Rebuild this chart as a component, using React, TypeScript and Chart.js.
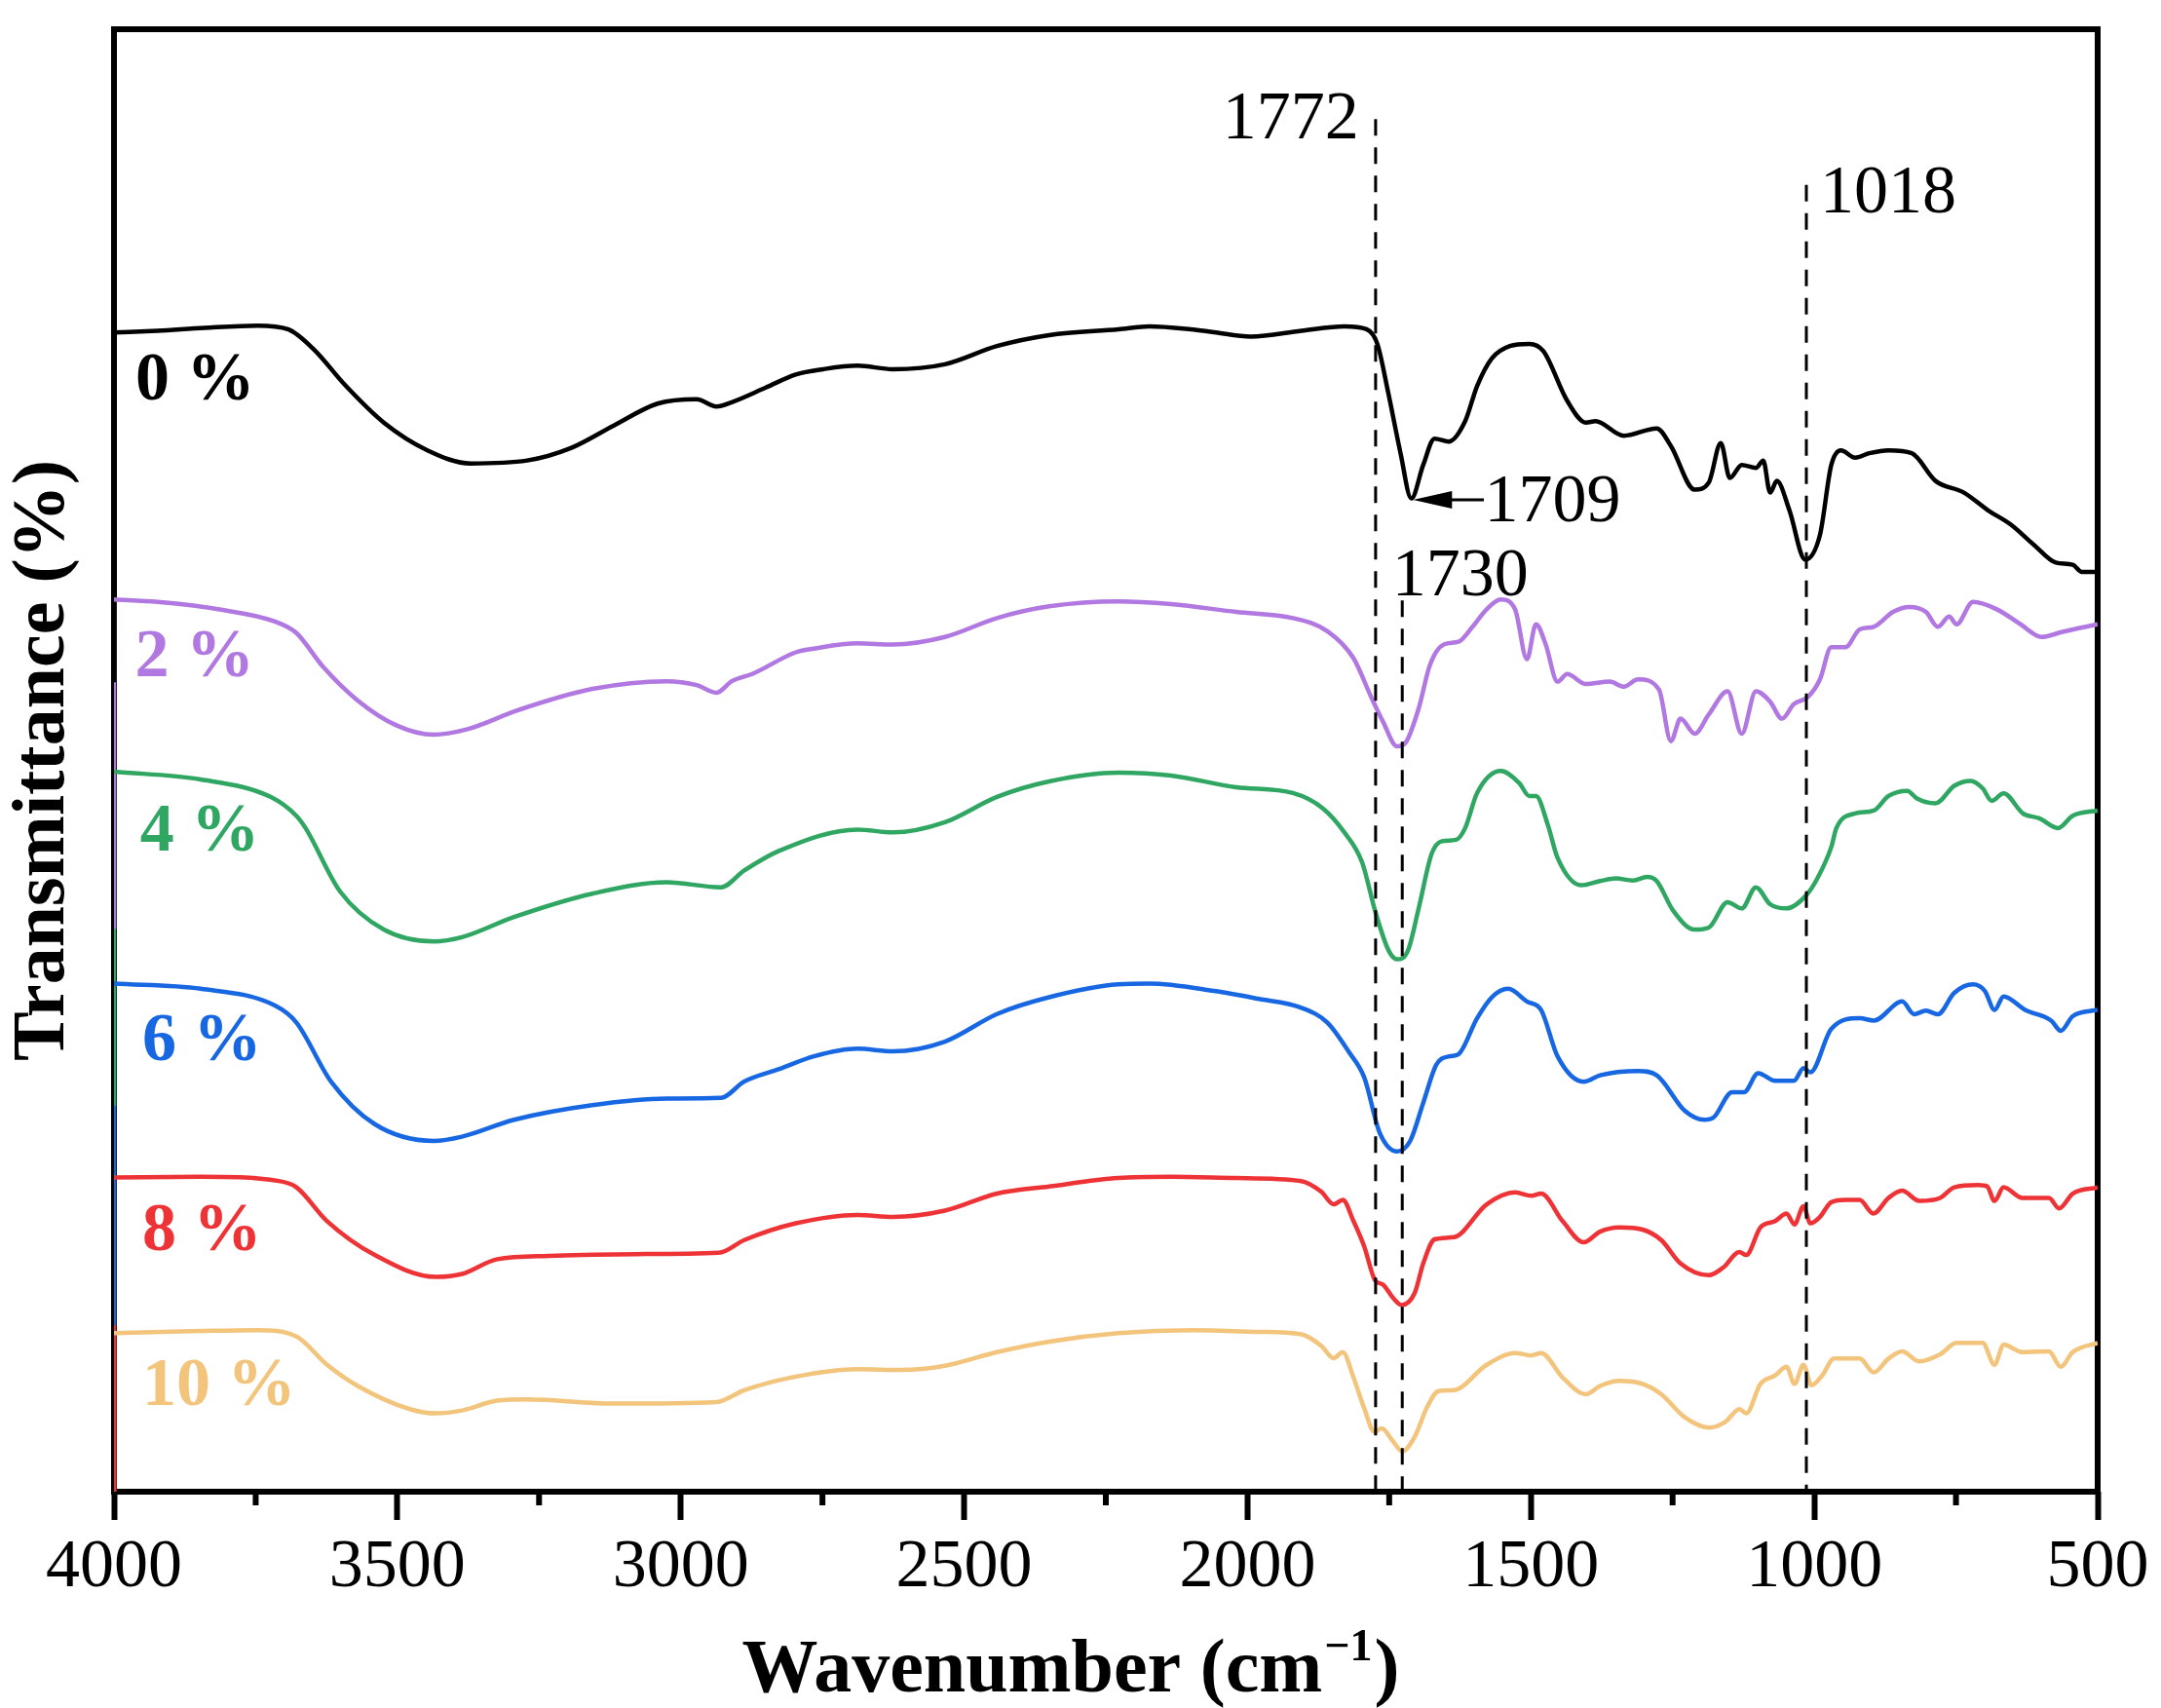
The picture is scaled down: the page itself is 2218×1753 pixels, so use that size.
import React, { useEffect, useRef } from 'react';
import { Chart, registerables } from 'chart.js';

Chart.register(...registerables);

const FONT = '"Times New Roman", "Liberation Serif", serif';

// ---------- data (wavenumber in cm-1, transmittance in offset units) ----------
const WN_0 = [
  4000, 3923, 3840, 3747, 3693, 3647, 3593, 3524, 3447, 3371,
  3271, 3194, 3118, 3041, 2972, 2937, 2910, 2850, 2797, 2749,
  2688, 2626, 2534, 2442, 2350, 2228, 2173, 2100, 2059, 1994,
  1905, 1829, 1790, 1771, 1752, 1730, 1711, 1690, 1670, 1645,
  1616, 1595, 1569, 1537, 1503, 1478, 1436, 1403, 1386, 1336,
  1278, 1253, 1211, 1186, 1165, 1149, 1128, 1103, 1090, 1078,
  1066, 1044, 1016, 990, 970, 953, 928, 903, 869, 828,
  786, 736, 694, 653, 612, 574, 544, 528, 500,
];
const T_0 = [
  79.27, 79.4, 79.6, 79.75, 79.5, 78.1, 75.7, 73.1, 71.2, 70.3,
  70.5, 71.35, 72.9, 74.4, 74.7, 74.2, 74.5, 75.5, 76.4, 76.76,
  77.0, 76.76, 77.1, 78.35, 79.1, 79.5, 79.7, 79.5, 79.3, 79.0,
  79.4, 79.7, 79.5, 78.5, 75.2, 71.0, 67.9, 70.2, 72.0, 71.8,
  73.2, 75.6, 77.5, 78.35, 78.5, 78.0, 74.6, 73.1, 73.2, 72.2,
  72.7, 71.5, 68.5, 69.0, 71.7, 69.3, 70.2, 70.0, 70.5, 68.3,
  69.1, 67.1, 63.7, 65.4, 70.2, 71.2, 70.7, 71.0, 71.2, 71.0,
  69.1, 68.3, 67.1, 66.1, 64.7, 63.5, 63.35, 62.86, 62.86,
];

const WN_2 = [
  4000, 3923, 3808, 3716, 3678, 3632, 3570, 3501, 3436, 3378,
  3286, 3156, 3025, 2972, 2937, 2910, 2872, 2797, 2765, 2688,
  2626, 2534, 2442, 2350, 2228, 2135, 2020, 1920, 1859, 1813,
  1782, 1761, 1736, 1721, 1698, 1678, 1653, 1628, 1603, 1578,
  1553, 1528, 1507, 1491, 1474, 1453, 1436, 1403, 1361, 1336,
  1311, 1274, 1253, 1236, 1211, 1186, 1153, 1128, 1103, 1078,
  1057, 1036, 1011, 990, 970, 945, 920, 895, 861, 832,
  803, 782, 762, 749, 720, 678, 636, 599, 562, 500,
];
const T_2 = [
  60.97, 60.8, 60.25, 59.46, 58.67, 56.4, 54.05, 52.33, 51.7, 52.06,
  53.4, 54.84, 55.37, 55.1, 54.58, 55.37, 55.9, 57.35, 57.6, 57.96,
  57.88, 58.4, 59.7, 60.5, 60.84, 60.65, 60.12, 59.7, 58.8, 56.95,
  54.3, 52.6, 50.9, 51.16, 53.5, 56.5, 57.9, 58.07, 59.1, 60.3,
  60.97, 60.3, 56.88, 59.27, 57.9, 55.34, 55.86, 55.18, 55.34, 55.0,
  55.5, 54.8, 51.26, 52.8, 51.77, 53.1, 54.67, 51.77, 54.67, 53.97,
  52.8, 53.8, 54.3, 55.5, 57.7, 57.7, 58.92, 59.1, 60.12, 60.46,
  60.12, 59.1, 59.8, 59.27, 60.8, 60.3, 59.27, 58.4, 58.75, 59.27,
];

const WN_4 = [
  4000, 3847, 3724, 3678, 3662, 3601, 3524, 3436, 3386, 3294,
  3156, 3025, 2929, 2888, 2826, 2688, 2626, 2534, 2442, 2350,
  2228, 2135, 2020, 1920, 1867, 1829, 1798, 1774, 1751, 1736,
  1717, 1698, 1675, 1657, 1632, 1616, 1595, 1553, 1520, 1503,
  1491, 1470, 1453, 1411, 1378, 1350, 1320, 1295, 1278, 1249,
  1211, 1186, 1153, 1128, 1103, 1078, 1049, 1015, 995, 970,
  961, 928, 895, 869, 836, 819, 786, 753, 724, 703,
  687, 666, 632, 603, 570, 544, 500,
];
const T_4 = [
  49.17, 48.63, 47.44, 46.13, 45.3, 40.95, 38.34, 37.53, 37.82, 39.2,
  40.8, 41.58, 41.24, 42.39, 43.75, 45.2, 45.0, 45.7, 47.44, 48.5,
  49.1, 48.9, 48.1, 47.7, 46.65, 45.0, 42.97, 39.5, 36.9, 36.3,
  36.9, 39.8, 43.55, 44.4, 44.5, 45.3, 47.7, 49.21, 48.36, 47.5,
  47.5, 45.5, 43.26, 41.38, 41.67, 41.85, 41.7, 41.95, 41.67, 39.64,
  38.34, 38.48, 40.22, 39.79, 41.24, 40.08, 39.79, 40.66, 41.82, 44.0,
  45.3, 46.3, 46.5, 47.5, 47.85, 47.33, 47.0, 48.2, 48.54, 48.03,
  47.17, 47.68, 46.31, 45.97, 45.3, 46.15, 46.5,
];

const WN_6 = [
  4000, 3847, 3716, 3678, 3617, 3540, 3436, 3386, 3294, 3156,
  3025, 2929, 2888, 2826, 2765, 2688, 2626, 2534, 2442, 2350,
  2228, 2173, 2059, 1982, 1905, 1859, 1821, 1794, 1767, 1736,
  1713, 1690, 1667, 1644, 1628, 1595, 1569, 1540, 1507, 1482,
  1453, 1407, 1378, 1311, 1278, 1228, 1194, 1178, 1145, 1124,
  1099, 1069, 1036, 1019, 1007, 970, 920, 895, 845, 824,
  803, 782, 753, 720, 699, 682, 666, 628, 582, 565,
  544, 500,
];
const T_6 = [
  34.63, 34.28, 33.13, 31.96, 27.92, 25.0, 23.85, 24.14, 25.3, 26.3,
  26.75, 26.8, 27.92, 28.78, 29.65, 30.17, 29.99, 30.66, 32.55, 33.7,
  34.58, 34.63, 34.13, 33.6, 32.98, 31.96, 29.94, 28.2, 24.43, 23.13,
  23.85, 26.46, 29.07, 29.65, 29.79, 32.26, 33.7, 34.28, 33.41, 32.83,
  29.65, 27.91, 28.35, 28.64, 28.35, 25.9, 25.3, 25.45, 27.19, 27.19,
  28.49, 27.97, 27.97, 28.84, 28.55, 31.53, 32.26, 32.1, 33.41, 32.54,
  32.78, 32.54, 34.0, 34.58, 34.13, 32.83, 33.76, 32.83, 32.1, 31.4,
  32.4, 32.83,
];

const WN_8 = [
  4000, 3847, 3709, 3678, 3624, 3540, 3432, 3386, 3324, 3233,
  3079, 2933, 2888, 2797, 2688, 2626, 2534, 2442, 2350, 2228,
  2135, 2020, 1905, 1870, 1848, 1832, 1813, 1794, 1775, 1761,
  1744, 1728, 1705, 1690, 1670, 1636, 1578, 1528, 1499, 1482,
  1444, 1407, 1378, 1344, 1303, 1270, 1236, 1186, 1161, 1132,
  1120, 1095, 1069, 1049, 1035, 1019, 1007, 990, 970, 945,
  920, 896, 869, 845, 815, 778, 753, 711, 695, 682,
  666, 633, 586, 568, 544, 500,
];
const T_8 = [
  21.34, 21.39, 21.1, 20.67, 18.35, 16.03, 14.53, 14.73, 15.74, 15.97,
  16.09, 16.18, 17.05, 18.2, 18.78, 18.64, 19.07, 20.24, 20.73, 21.31,
  21.39, 21.31, 21.1, 20.37, 19.5, 19.8, 18.35, 16.6, 14.3, 14.0,
  13.13, 12.6, 13.43, 15.45, 17.1, 17.25, 19.5, 20.32, 20.09, 20.24,
  18.35, 16.9, 17.63, 17.92, 17.77, 17.05, 15.45, 14.64, 15.16, 16.23,
  16.03, 17.92, 18.35, 18.87, 18.12, 19.37, 18.2, 18.64, 19.65, 19.8,
  19.8, 18.87, 19.94, 20.44, 19.74, 19.94, 20.67, 20.82, 20.73, 19.74,
  20.67, 19.94, 19.94, 19.22, 20.24, 20.67,
];

const WN_10 = [
  4000, 3847, 3747, 3678, 3624, 3570, 3478, 3432, 3386, 3324,
  3271, 3117, 2937, 2888, 2797, 2688, 2611, 2534, 2442, 2350,
  2228, 2097, 1982, 1905, 1870, 1848, 1832, 1813, 1794, 1776,
  1763, 1744, 1727, 1705, 1683, 1663, 1636, 1578, 1528, 1499,
  1482, 1444, 1403, 1378, 1344, 1303, 1270, 1228, 1186, 1157,
  1132, 1120, 1095, 1069, 1049, 1035, 1019, 1005, 986, 965,
  920, 895, 869, 845, 815, 778, 749, 703, 682, 666,
  633, 586, 565, 544, 500,
];
const T_10 = [
  10.67, 10.82, 10.88, 10.44, 8.5, 7.05, 5.46, 5.17, 5.37, 6.04,
  6.13, 5.84, 5.95, 6.76, 7.69, 8.2, 8.15, 8.44, 9.37, 10.09,
  10.67, 10.88, 10.76, 10.59, 9.81, 8.95, 9.37, 7.63, 5.5, 3.9,
  4.15, 3.29, 2.57, 3.57, 5.61, 6.7, 6.76, 8.5, 9.31, 9.14,
  9.31, 7.63, 6.48, 7.05, 7.4, 7.19, 6.48, 4.88, 4.2, 4.59,
  5.46, 5.17, 7.19, 7.77, 8.36, 7.19, 8.5, 7.1, 7.77, 8.93,
  8.93, 7.98, 8.93, 9.42, 8.73, 9.22, 10.0, 10.0, 8.5, 9.89,
  9.37, 9.42, 8.36, 9.37, 10.0,
];

const SERIES_WN = [WN_0, WN_2, WN_4, WN_6, WN_8, WN_10];
const SERIES_T = [T_0, T_2, T_4, T_6, T_8, T_10];
const SERIES_LABELS = ['0 %', '2 %', '4 %', '6 %', '8 %', '10 %'];
// value each trace drops to at the 4000 cm-1 edge
const EDGE_LOW = [55.3, 38.4, 26.25, 11.2, -0.2, -0.2];
// series label anchor (wavenumber, transmittance)
const LABEL_WN = [3962, 3963, 3954, 3950, 3950, 3950];
const LABEL_T = [74.68, 55.68, 43.75, 29.36, 16.38, 5.74];

// dashed marker lines
const MARKER_WN = [1774, 1727, 1014];
const MARKER_TOP = [93.9, 60.9, 89.4];

// peak annotations
const PEAK_TEXT = ['1772', '1018', '1709', '1730'];
const PEAK_WN = [2044, 990, 1582, 1745];
const PEAK_T = [92.6, 87.48, 66.35, 61.26];
const ARROW_FROM_WN = 1583;
const ARROW_TO_WN = 1708;
const ARROW_T = 67.8;

const MAJOR_TICKS = [4000, 3500, 3000, 2500, 2000, 1500, 1000, 500];
const MINOR_TICKS = [3750, 3250, 2750, 2250, 1750, 1250, 750];

const Y_MIN = -0.2;
const Y_MAX = 100.07;

// ---------- styles ----------
const SERIES_COLORS = ['#000000', '#B078E0', '#2FA662', '#1766E2', '#EE3337', '#F2C47C'];
const W = 2218;
const H = 1753;

const overlayPlugin = {
  id: 'overlay',
  beforeDatasetsDraw(chart: any) {
    const { ctx, chartArea } = chart;
    ctx.save();
    ctx.strokeStyle = '#000';
    ctx.lineWidth = 6;
    ctx.strokeRect(chartArea.left, chartArea.top, chartArea.right - chartArea.left, chartArea.bottom - chartArea.top);
    ctx.restore();
  },
  afterDraw(chart: any) {
    const { ctx, chartArea } = chart;
    const x = chart.scales.x;
    const y = chart.scales.y;
    ctx.save();
    // minor ticks
    ctx.strokeStyle = '#000';
    ctx.lineWidth = 6;
    MINOR_TICKS.forEach((v) => {
      const px = x.getPixelForValue(v);
      ctx.beginPath();
      ctx.moveTo(px, chartArea.bottom);
      ctx.lineTo(px, chartArea.bottom + 14);
      ctx.stroke();
    });
    // series labels
    ctx.textAlign = 'left';
    ctx.textBaseline = 'alphabetic';
    ctx.font = `bold 70px ${FONT}`;
    SERIES_LABELS.forEach((t, i) => {
      ctx.fillStyle = SERIES_COLORS[i];
      ctx.fillText(t, x.getPixelForValue(LABEL_WN[i]), y.getPixelForValue(LABEL_T[i]));
    });
    // peak labels
    ctx.fillStyle = '#000';
    ctx.font = `70px ${FONT}`;
    PEAK_TEXT.forEach((t, i) => {
      ctx.fillText(t, x.getPixelForValue(PEAK_WN[i]), y.getPixelForValue(PEAK_T[i]));
    });
    // arrow to 1709
    const ay = y.getPixelForValue(ARROW_T);
    const ax0 = x.getPixelForValue(ARROW_FROM_WN);
    const ax1 = x.getPixelForValue(ARROW_TO_WN);
    ctx.strokeStyle = '#000';
    ctx.lineWidth = 3;
    ctx.beginPath();
    ctx.moveTo(ax0, ay);
    ctx.lineTo(ax1 + 30, ay);
    ctx.stroke();
    ctx.beginPath();
    ctx.moveTo(ax1, ay);
    ctx.lineTo(ax1 + 40, ay - 9);
    ctx.lineTo(ax1 + 40, ay + 9);
    ctx.closePath();
    ctx.fillStyle = '#000';
    ctx.fill();
    // x axis title with superscript
    const main = 'Wavenumber (cm';
    const sup = '\u22121';
    const close = ')';
    ctx.font = `bold 78px ${FONT}`;
    const w1 = ctx.measureText(main).width;
    const w3 = ctx.measureText(close).width;
    ctx.font = `bold 46px ${FONT}`;
    const w2 = ctx.measureText(sup).width;
    const cx = (chartArea.left + chartArea.right) / 2 - 38;
    let sx = cx - (w1 + w2 + w3) / 2;
    const by = H - 17;
    ctx.fillStyle = '#000';
    ctx.font = `bold 78px ${FONT}`;
    ctx.fillText(main, sx, by);
    sx += w1 + 2;
    ctx.font = `bold 46px ${FONT}`;
    ctx.fillText(sup, sx, by - 32);
    sx += w2 + 2;
    ctx.font = `bold 78px ${FONT}`;
    ctx.fillText(close, sx, by);
    ctx.restore();
  },
};

export default function App() {
  const ref = useRef<HTMLCanvasElement | null>(null);

  useEffect(() => {
    const canvas = ref.current;
    if (!canvas) return;
    canvas.width = W;
    canvas.height = H;

    const datasets: any[] = [];
    MARKER_WN.forEach((wn, i) => {
      datasets.push({
        label: 'marker' + i,
        data: [
          { x: wn, y: MARKER_TOP[i] },
          { x: wn, y: Y_MIN },
        ],
        borderColor: '#000',
        borderWidth: 3,
        borderDash: [17, 12],
        pointRadius: 0,
        tension: 0,
        order: 0,
      });
    });
    SERIES_WN.forEach((wns, i) => {
      datasets.push({
        label: SERIES_LABELS[i],
        data: wns.map((wn, j) => ({ x: wn, y: SERIES_T[i][j] })),
        borderColor: SERIES_COLORS[i],
        borderWidth: 4.5,
        pointRadius: 0,
        cubicInterpolationMode: 'monotone',
        order: 1,
      });
    });
    SERIES_WN.forEach((wns, i) => {
      datasets.push({
        label: 'edge' + i,
        data: [
          { x: wns[0], y: SERIES_T[i][0] },
          { x: wns[0], y: EDGE_LOW[i] },
        ],
        borderColor: SERIES_COLORS[i],
        borderWidth: 4.5,
        pointRadius: 0,
        tension: 0,
        order: 2,
      });
    });

    const chart = new Chart(canvas, {
      type: 'line',
      data: { datasets },
      options: {
        responsive: false,
        maintainAspectRatio: false,
        devicePixelRatio: 1,
        animation: false,
        events: [],
        layout: { padding: { top: 30, right: W - 2153, bottom: 0, left: 0 } },
        plugins: {
          legend: { display: false },
          tooltip: { enabled: false },
        },
        scales: {
          x: {
            type: 'linear',
            reverse: true,
            min: 500,
            max: 4000,
            afterBuildTicks: (s: any) => {
              s.ticks = MAJOR_TICKS.map((v) => ({ value: v }));
            },
            afterFit: (s: any) => {
              s.height = H - 1531;
            },
            ticks: {
              callback: (v: any) => String(v),
              font: { family: FONT, size: 70 },
              color: '#000',
              padding: 8,
              maxRotation: 0,
              autoSkip: false,
            },
            grid: {
              display: true,
              drawOnChartArea: false,
              drawTicks: true,
              tickLength: 29,
              tickWidth: 6,
              tickColor: '#000',
            },
            border: { display: false },
            title: { display: false },
          },
          y: {
            type: 'linear',
            min: Y_MIN,
            max: Y_MAX,
            afterFit: (s: any) => {
              s.width = 117;
            },
            ticks: { display: false },
            grid: { display: false },
            border: { display: false },
            title: {
              display: true,
              text: 'Transmittance (%)',
              color: '#000',
              font: { family: FONT, size: 76, weight: 'bold' },
              padding: { top: 0, bottom: 0 },
            },
          },
        },
      } as any,
      plugins: [overlayPlugin],
    });

    return () => {
      chart.destroy();
    };
  }, []);

  return (
    <div style={{ position: 'absolute', left: 0, top: 0, width: W, height: H, background: '#fff' }}>
      <canvas ref={ref} width={W} height={H} style={{ width: W, height: H, display: 'block' }} />
    </div>
  );
}
